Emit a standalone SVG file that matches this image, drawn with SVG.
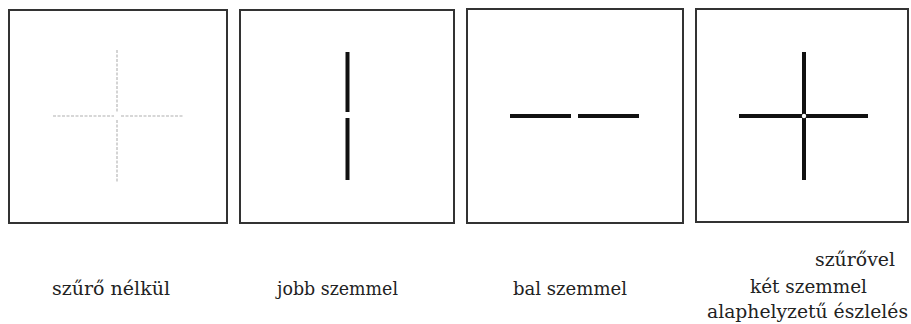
<svg xmlns="http://www.w3.org/2000/svg" width="911" height="324" viewBox="0 0 911 324">
<style>
.box{fill:#fff;stroke:#333;stroke-width:2}
.bar{stroke:#111;stroke-width:4;stroke-linecap:butt}
.faint{stroke:#cacaca;stroke-width:1.6;stroke-dasharray:3 1.5}
.lbl{font-family:'DejaVu Serif','Liberation Serif',serif;font-size:19px;fill:#222}
</style>
<rect width="911" height="324" fill="#fff"/>
<g id="panel1">
<rect class="box" x="9" y="10" width="218" height="213"/>
<line class="faint" x1="117" y1="50" x2="117" y2="112"/>
<line class="faint" x1="117" y1="120" x2="117" y2="182"/>
<line class="faint" x1="53" y1="116" x2="114" y2="116"/>
<line class="faint" x1="121" y1="116" x2="183" y2="116"/>
<text class="lbl" x="52" y="295" textLength="118" lengthAdjust="spacingAndGlyphs">szűrő nélkül</text>
</g>
<g id="panel2">
<rect class="box" x="240" y="10" width="214" height="213"/>
<line class="bar" x1="347.5" y1="52" x2="347.5" y2="112"/>
<line class="bar" x1="347.5" y1="118" x2="347.5" y2="180"/>
<text class="lbl" x="277" y="295" textLength="121" lengthAdjust="spacingAndGlyphs">jobb szemmel</text>
</g>
<g id="panel3">
<rect class="box" x="467" y="9" width="216" height="214"/>
<line class="bar" x1="510" y1="116" x2="571" y2="116"/>
<line class="bar" x1="578" y1="116" x2="639" y2="116"/>
<text class="lbl" x="513" y="295" textLength="114" lengthAdjust="spacingAndGlyphs">bal szemmel</text>
</g>
<g id="panel4">
<rect class="box" x="696" y="9" width="212" height="213"/>
<line class="bar" x1="804" y1="52" x2="804" y2="180"/>
<line class="bar" x1="739" y1="116" x2="868" y2="116"/>
<circle cx="804" cy="116" r="2.2" fill="#fff"/>
<text class="lbl" x="815" y="266" textLength="80" lengthAdjust="spacingAndGlyphs">szűrővel</text>
<text class="lbl" x="750" y="293" textLength="117" lengthAdjust="spacingAndGlyphs">két szemmel</text>
<text class="lbl" x="707" y="318" textLength="201" lengthAdjust="spacingAndGlyphs">alaphelyzetű észlelés</text>
</g>
</svg>
